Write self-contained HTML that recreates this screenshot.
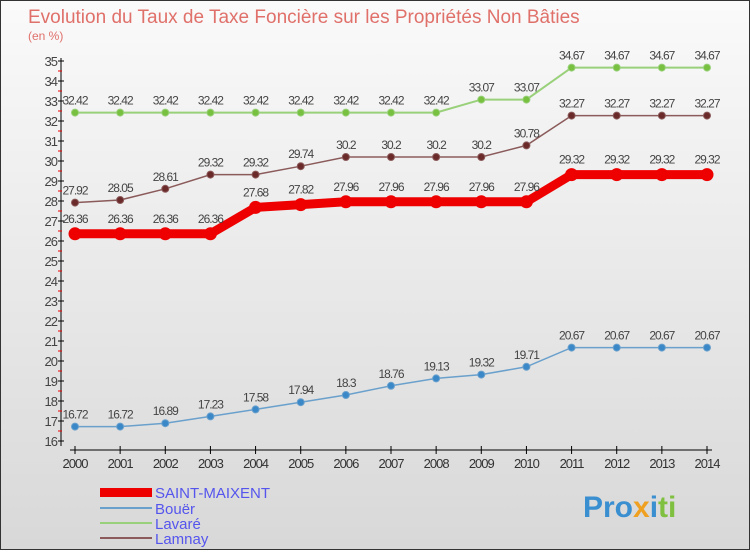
<!DOCTYPE html>
<html><head><meta charset="utf-8"><style>
body{margin:0}
svg text{font-family:"Liberation Sans",sans-serif}
</style></head><body>
<svg width="750" height="550" viewBox="0 0 750 550" xmlns="http://www.w3.org/2000/svg">
<defs><linearGradient id="bg" x1="0" y1="0" x2="0" y2="1"><stop offset="0" stop-color="#fafafa"/><stop offset="1" stop-color="#d8d8d8"/></linearGradient></defs>
<rect x="0.5" y="0.5" width="749" height="549" fill="url(#bg)" stroke="#333"/>
<text x="28" y="23" font-size="19" fill="#e0706a">Evolution du Taux de Taxe Foncière sur les Propriétés Non Bâties</text>
<text x="28" y="40" font-size="12" fill="#e0706a">(en %)</text>
<g id="axes"></g><g id="series"></g>
<g>
<rect x="100" y="488" width="52" height="9" fill="#e00"/>
<text x="155" y="498" font-size="15" fill="#5555ee">SAINT-MAIXENT</text>
<line x1="100" y1="508" x2="152" y2="508" stroke="#6aa0cc" stroke-width="2"/>
<text x="155" y="514" font-size="15" fill="#5555ee">Bouër</text>
<line x1="100" y1="523" x2="152" y2="523" stroke="#99d07a" stroke-width="2"/>
<text x="155" y="529" font-size="15" fill="#5555ee">Lavaré</text>
<line x1="100" y1="538" x2="152" y2="538" stroke="#8b5a5a" stroke-width="2"/>
<text x="155" y="544" font-size="15" fill="#5555ee">Lamnay</text>
</g>
<text x="583" y="517" font-size="30" font-weight="bold"><tspan fill="#3a8fd0">Pro</tspan><tspan fill="#f0a020">x</tspan><tspan fill="#3a8fd0">i</tspan><tspan fill="#80c040">ti</tspan></text>
</svg>
<script>
const years=[2000,2001,2002,2003,2004,2005,2006,2007,2008,2009,2010,2011,2012,2013,2014];
const saint=[26.36,26.36,26.36,26.36,27.68,27.82,27.96,27.96,27.96,27.96,27.96,29.32,29.32,29.32,29.32];
const bouer=[16.72,16.72,16.89,17.23,17.58,17.94,18.3,18.76,19.13,19.32,19.71,20.67,20.67,20.67,20.67];
const lavare=[32.42,32.42,32.42,32.42,32.42,32.42,32.42,32.42,32.42,33.07,33.07,34.67,34.67,34.67,34.67];
const lamnay=[27.92,28.05,28.61,29.32,29.32,29.74,30.2,30.2,30.2,30.2,30.78,32.27,32.27,32.27,32.27];
const yTicks=[16,17,18,19,20,21,22,23,24,25,26,27,28,29,30,31,32,33,34,35];
const NS="http://www.w3.org/2000/svg";
const X=i=>75+i*(707-75)/14, Y=v=>441-(v-16)*20;
function mk(p,t,a){const e=document.createElementNS(NS,t);for(const k in a)e.setAttribute(k,a[k]);p.appendChild(e);return e;}
const ax=document.getElementById('axes'), sg=document.getElementById('series');
mk(ax,'line',{x1:61,y1:58,x2:61,y2:446,stroke:'#000'});
mk(ax,'line',{x1:70,y1:450,x2:712,y2:450,stroke:'#000'});
yTicks.forEach(v=>{mk(ax,'line',{x1:58,y1:Y(v),x2:64,y2:Y(v),stroke:'#000'});
 if(v<35)mk(ax,'line',{x1:58,y1:Y(v+0.5),x2:62,y2:Y(v+0.5),stroke:'#e00'});
 const t=mk(ax,'text',{x:57,y:Y(v)+5,'font-size':13,'text-anchor':'end',fill:'#444','letter-spacing':'-1'});t.textContent=v;
 });
years.forEach((yr,i)=>{mk(ax,'line',{x1:X(i),y1:446,x2:X(i),y2:454,stroke:'#000'});
 const t=mk(ax,'text',{x:X(i),y:468,'font-size':13,'text-anchor':'middle',fill:'#333','letter-spacing':'-1'});t.textContent=yr;
 });
function series(vals,col,w,r,name,dot){
 const g=mk(sg,'g',{});
 mk(g,'polyline',{points:vals.map((v,i)=>X(i)+','+Y(v)).join(' '),fill:'none',stroke:col,'stroke-width':w});
 vals.forEach((v,i)=>{const c=mk(g,'circle',{cx:X(i),cy:Y(v),r:r,fill:dot,stroke:col});
  
  const t=mk(g,'text',{x:X(i),y:Y(v)-8-(r>4?3:0),'font-size':12,'text-anchor':'middle',fill:'#444','letter-spacing':'-1'});t.textContent=v;
  });
}
series(lavare,'#99d07a',2,3.5,'lavare','#77c040');
series(lamnay,'#8b5a5a',1.5,3.5,'lamnay','#6a2a2a');
series(bouer,'#6aa0cc',1.5,3.5,'bouer','#3a88c8');
series(saint,'#ee0000',9,6,'saint-maixent','#ee0000');
</script>
</body></html>
